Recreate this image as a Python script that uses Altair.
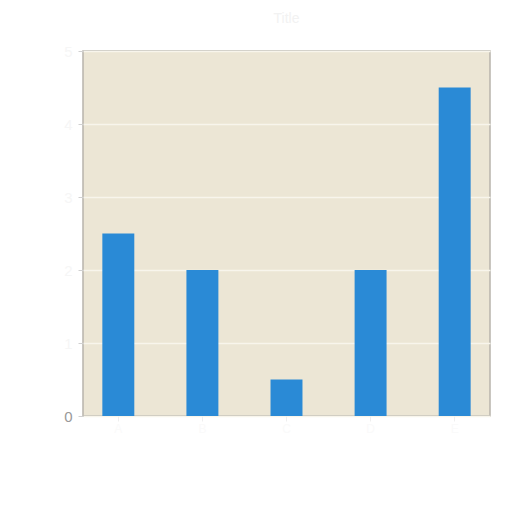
import altair as alt
import pandas as pd

categories = ["A", "B", "C", "D", "E"]
values = [2.5, 2.0, 0.5, 2.0, 4.5]

df = pd.DataFrame({"category": categories, "value": values})

chart = alt.Chart(df).mark_bar(color="#2a8ad6").encode(
    x=alt.X("category:N", sort=categories, title=None,
            scale=alt.Scale(paddingInner=0.62, paddingOuter=0.23),
            axis=alt.Axis(labelAngle=0, labelColor="#fafafa", tickColor="#eeeeee",
                          domain=False, labelFontSize=12)),
    y=alt.Y("value:Q", title=None,
            scale=alt.Scale(domain=[0, 5]),
            axis=alt.Axis(values=[0, 1, 2, 3, 4, 5], grid=True, gridColor="#f8f5ec",
                          gridWidth=1.5, domain=False, tickColor="#d0d0d0",
                          labelFontSize=15, labelPadding=6,
                          labelColor={"condition": {"test": "datum.value == 0", "value": "#999999"},
                                      "value": "#f6f6f6"})),
).properties(
    width=407,
    height=365,
    background="white",
    title=alt.Title("Title", color="#f2f2f2", fontSize=14, fontWeight="normal", anchor="middle", offset=18),
    autosize=alt.AutoSizeParams(type="none"),
    padding={"left": 75, "top": 43, "right": 14, "bottom": 50},
).configure_view(
    fill="#ece6d5", stroke="#b8b4ac", strokeWidth=1.5
)

chart.save("out.html", embed_options={"renderer": "svg", "actions": False})
